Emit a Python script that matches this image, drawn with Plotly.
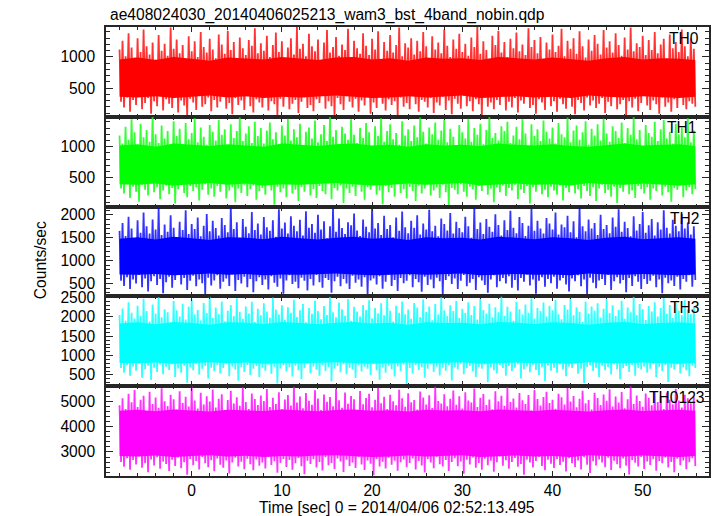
import numpy as np
import plotly.graph_objects as go
from plotly.subplots import make_subplots

title_text = "ae408024030_20140406025213_wam3_bst_4band_nobin.qdp"
x_title = "Time [sec] 0 = 2014/04/06 02:52:13.495"
y_title = "Counts/sec"
bands = ["TH0", "TH1", "TH2", "TH3", "TH0123"]
colors = ["#ff0000", "#00ff00", "#0000ff", "#00ffff", "#ff00ff"]

t_start = -8.0
pair_width = 1.0 / 3.0   # one local maximum and one local minimum per 1/3 s
core_step = 2.0

# local maxima / minima of each light curve (counts/sec)
th0_peak = [1120, 1260, 1010, 1380, 1150, 990, 1300, 1080, 1440, 1170, 1040, 1230, 960, 1350, 1100, 1210,
            1020, 1470, 1130, 1280, 1060, 1190, 910, 1330, 1090, 1250, 1000, 1400, 1160, 1070, 1290, 1120,
            980, 1360, 1200, 1050, 1420, 1110, 1240, 940, 1310, 1140, 1030, 1270, 1180, 1460, 1060, 1220,
            1100, 1340, 1000, 1190, 1390, 1080, 1250, 970, 1150, 1300, 1040, 1480, 1130, 1210, 1010, 1370,
            1170, 1090, 1280, 930, 1230, 1430, 1070, 1160, 1320, 1020, 1200, 1110, 1450, 990, 1260, 1140,
            1050, 1380, 1180, 1030, 1290, 1120, 1410, 960, 1240, 1100, 1350, 1070, 1190, 1470, 1010, 1220,
            1150, 1300, 1040, 1260, 1090, 1400, 1170, 950, 1330, 1120, 1230, 1060, 1440, 1180, 1000, 1280,
            1130, 1370, 1080, 1210, 1020, 1310, 1160, 1480, 1050, 1250, 1110, 970, 1340, 1190, 1420, 1070,
            1240, 1000, 1290, 1140, 1390, 1090, 1200, 1030, 1460, 1160, 1270, 1060, 1320, 940, 1230, 1120,
            1360, 1080, 1180, 1450, 1010, 1260, 1130, 1300, 1050, 1410, 1170, 990, 1280, 1100, 1350, 1210,
            1040, 1430, 1150, 1250, 1070, 1380, 1190, 1020, 1310, 1120, 1470, 1090, 1220, 1160, 1340, 1030,
            1270, 1110, 1400, 1060, 1200, 1290, 980, 1360, 1140, 1240, 1080, 1440, 1170, 1010, 1300, 1130]
th0_trough = [280, 190, 350, 120, 310, 230, 400, 160, 260, 340, 90, 290, 210, 370, 140, 320,
              250, 180, 380, 110, 300, 220, 60, 330, 270, 150, 390, 200, 240, 350, 130, 310,
              190, 280, 420, 170, 260, 80, 340, 230, 300, 150, 370, 210, 110, 320, 270, 190,
              360, 140, 290, 240, 70, 330, 200, 380, 160, 250, 310, 100, 280, 350, 180, 230,
              130, 320, 260, 400, 170, 290, 210, 60, 340, 240, 150, 370, 280, 190, 330, 120,
              300, 220, 360, 90, 270, 180, 410, 250, 140, 320, 230, 290, 70, 350, 200, 260,
              160, 390, 240, 120, 310, 280, 190, 340, 100, 270, 220, 360, 150, 300, 80, 330,
              250, 170, 380, 210, 290, 130, 320, 240, 60, 350, 200, 270, 160, 310, 230, 400,
              140, 280, 190, 340, 110, 300, 250, 370, 180, 230, 90, 320, 270, 150, 360, 210,
              290, 120, 330, 240, 170, 390, 200, 80, 310, 260, 140, 350, 220, 300, 180, 250,
              340, 100, 280, 210, 370, 160, 240, 310, 70, 290, 190, 330, 130, 260, 380, 220,
              150, 300, 240, 90, 350, 200, 270, 120, 320, 180, 410, 230, 160, 290, 250, 200]

th1_peak = [1180, 1050, 1320, 1110, 1440, 1230, 1010, 1370, 1150, 1270, 1080, 1480, 1200, 1060, 1340, 1130,
            1250, 990, 1410, 1170, 1290, 1040, 1380, 1120, 1220, 1460, 1070, 1310, 1160, 1030, 1350, 1240,
            1100, 1430, 1190, 1280, 1020, 1360, 1140, 1250, 1470, 1090, 1210, 1330, 1060, 1400, 1170, 1300,
            1050, 1260, 1390, 1120, 1230, 980, 1340, 1180, 1450, 1100, 1280, 1150, 1370, 1020, 1240, 1310,
            1130, 1420, 1070, 1200, 1350, 1090, 1480, 1160, 1270, 1040, 1320, 1210, 1110, 1440, 1190, 1060,
            1300, 1140, 1380, 1230, 1000, 1330, 1170, 1460, 1080, 1250, 1360, 1120, 1220, 1030, 1410, 1180,
            1280, 1090, 1340, 1150, 1470, 1240, 1050, 1310, 1200, 1390, 1110, 1260, 1430, 1070, 1290, 1160,
            1020, 1350, 1230, 1130, 1450, 1080, 1300, 1190, 1370, 1040, 1270, 1480, 1140, 1220, 1100, 1330,
            1250, 1400, 1060, 1180, 1320, 1120, 1440, 1210, 990, 1360, 1170, 1280, 1090, 1420, 1240, 1130,
            1310, 1050, 1380, 1200, 1150, 1470, 1070, 1260, 1340, 1110, 1230, 1410, 1030, 1290, 1180, 1360,
            1100, 1450, 1210, 1080, 1330, 1250, 1140, 1390, 1060, 1300, 1190, 1480, 1120, 1270, 1010, 1350,
            1220, 1160, 1400, 1090, 1280, 1430, 1130, 1240, 1050, 1370, 1200, 1310, 1150, 1460, 1070, 1260]
th1_trough = [330, 250, 400, 180, 360, 280, 120, 390, 310, 220, 430, 270, 350, 160, 300, 380,
              240, 340, 90, 320, 410, 260, 190, 370, 290, 350, 140, 310, 400, 230, 330, 200,
              370, 280, 420, 170, 300, 350, 110, 330, 260, 390, 210, 320, 380, 150, 290, 340,
              230, 410, 300, 70, 360, 270, 330, 190, 400, 250, 310, 130, 350, 280, 420, 220,
              320, 180, 370, 290, 240, 410, 160, 340, 300, 380, 100, 330, 260, 360, 210, 390,
              280, 150, 350, 310, 420, 230, 300, 80, 370, 270, 340, 200, 400, 260, 320, 170,
              360, 290, 130, 380, 250, 330, 410, 220, 300, 350, 180, 390, 270, 60, 340, 310,
              240, 400, 280, 200, 360, 320, 150, 370, 290, 420, 230, 330, 110, 350, 270, 380,
              210, 340, 300, 390, 160, 320, 260, 370, 90, 350, 280, 410, 240, 310, 190, 360,
              300, 230, 380, 140, 340, 270, 400, 250, 320, 170, 370, 290, 210, 350, 130, 330,
              390, 260, 310, 200, 360, 100, 340, 280, 410, 240, 300, 180, 370, 320, 250, 350,
              150, 330, 290, 400, 220, 360, 270, 120, 340, 310, 380, 190, 300, 350, 240, 320]

th2_peak = [1650, 1820, 1540, 1960, 1700, 1480, 1880, 1610, 2050, 1750, 1590, 1900, 1680, 2150, 1560, 1790,
            1630, 1990, 1720, 1510, 1850, 1670, 2100, 1580, 1800, 1690, 1940, 1530, 1760, 2020, 1640, 1870,
            1710, 1550, 1930, 1780, 1620, 2170, 1690, 1840, 1500, 1910, 1740, 1600, 2060, 1670, 1810, 1570,
            1950, 1730, 1650, 1880, 1520, 2120, 1700, 1830, 1590, 1970, 1760, 1640, 1890, 1550, 2080, 1720,
            1800, 1610, 2000, 1680, 1860, 1490, 1750, 2140, 1630, 1920, 1710, 1580, 1840, 1770, 2030, 1660,
            1540, 1900, 1740, 1620, 2180, 1700, 1820, 1560, 1980, 1690, 1780, 1510, 1940, 1650, 2070, 1730,
            1600, 1870, 1720, 1990, 1570, 1810, 1680, 2110, 1640, 1760, 1530, 1920, 1800, 1660, 2040, 1590,
            1850, 1710, 1620, 1960, 1750, 1500, 2160, 1690, 1830, 1580, 1910, 1740, 1630, 2010, 1780, 1550,
            1880, 1670, 2090, 1720, 1600, 1950, 1820, 1540, 1760, 2130, 1650, 1870, 1700, 1590, 1930, 1810,
            1680, 2050, 1570, 1790, 1730, 1980, 1620, 1860, 1510, 2170, 1750, 1640, 1900, 1700, 1820, 1560,
            2000, 1690, 1780, 1600, 1940, 1740, 2120, 1630, 1850, 1710, 1530, 1970, 1660, 1800, 2060, 1610,
            1770, 1910, 1550, 1840, 1680, 2100, 1720, 1590, 1890, 1760, 1640, 2020, 1700, 1830, 1570, 1750]
th2_trough = [560, 450, 640, 380, 590, 500, 690, 420, 610, 330, 550, 660, 470, 600, 290, 530,
              650, 410, 580, 700, 480, 620, 360, 560, 670, 440, 590, 510, 260, 630, 460, 570,
              680, 390, 540, 610, 450, 700, 340, 580, 500, 650, 420, 600, 310, 550, 640, 470,
              590, 370, 660, 520, 430, 610, 280, 570, 680, 490, 540, 400, 630, 560, 350, 600,
              460, 690, 530, 410, 620, 580, 300, 550, 650, 440, 600, 500, 380, 670, 520, 590,
              430, 640, 270, 570, 610, 480, 660, 390, 540, 700, 450, 580, 340, 620, 510, 560,
              680, 420, 600, 530, 320, 650, 470, 590, 400, 630, 550, 250, 580, 660, 490, 610,
              380, 560, 690, 440, 520, 600, 360, 640, 570, 470, 300, 590, 680, 420, 550, 620,
              500, 660, 410, 580, 350, 620, 540, 700, 460, 590, 280, 560, 640, 430, 600, 510,
              650, 390, 570, 620, 480, 330, 610, 550, 680, 440, 590, 260, 630, 520, 400, 570,
              600, 470, 690, 360, 550, 640, 500, 580, 310, 620, 450, 660, 540, 380, 600, 490,
              560, 670, 420, 590, 290, 630, 510, 570, 450, 650, 370, 600, 540, 680, 430, 580]

th3_peak = [2050, 2220, 1900, 2380, 2110, 1960, 2290, 2030, 2470, 2150, 1880, 2320, 2080, 2510, 1990, 2200,
            2120, 1850, 2410, 2170, 2010, 2340, 1930, 2260, 2450, 2060, 2180, 1910, 2360, 2100, 2530, 1970,
            2240, 2070, 2400, 1890, 2160, 2310, 2020, 2480, 2130, 1950, 2270, 2090, 2390, 1870, 2210, 2040,
            2350, 2140, 1980, 2500, 2190, 2060, 2300, 1920, 2250, 2110, 2440, 2000, 2170, 2330, 1860, 2230,
            2080, 2420, 2150, 1940, 2280, 2050, 2520, 2120, 1990, 2370, 2200, 2030, 2460, 1900, 2260, 2140,
            2010, 2310, 2180, 2430, 1960, 2230, 2090, 2350, 2040, 2490, 2160, 1880, 2290, 2110, 2400, 2070,
            2190, 1950, 2360, 2240, 2000, 2450, 2130, 2270, 1910, 2330, 2060, 2510, 2170, 2020, 2300, 2150,
            2410, 1970, 2210, 2100, 2380, 2050, 2280, 1930, 2470, 2180, 2080, 2340, 1990, 2250, 2120, 2530,
            2030, 2260, 2140, 1900, 2390, 2200, 2060, 2320, 2110, 2480, 1960, 2230, 2150, 2370, 2010, 2290,
            2170, 2440, 2070, 1940, 2310, 2190, 2500, 2040, 2250, 2130, 1870, 2400, 2090, 2270, 2160, 2350,
            1980, 2210, 2460, 2100, 2300, 2020, 2180, 2420, 1950, 2240, 2120, 2520, 2050, 2330, 2200, 1920,
            2280, 2140, 2380, 2010, 2230, 2490, 2080, 2310, 1970, 2360, 2160, 2040, 2430, 2190, 2070, 2260]
th3_trough = [680, 560, 760, 480, 720, 610, 800, 430, 650, 740, 370, 690, 580, 770, 520, 710,
              630, 780, 450, 670, 560, 740, 300, 700, 620, 790, 510, 660, 730, 410, 690, 600,
              750, 540, 680, 800, 470, 720, 640, 350, 700, 580, 760, 500, 660, 730, 440, 690,
              610, 770, 530, 710, 280, 670, 750, 590, 700, 460, 740, 620, 390, 680, 790, 550,
              720, 640, 480, 760, 600, 700, 330, 670, 730, 570, 780, 520, 690, 640, 420, 750,
              590, 710, 660, 500, 800, 620, 380, 700, 560, 740, 650, 460, 720, 600, 770, 250,
              680, 540, 750, 630, 700, 430, 660, 780, 580, 720, 490, 690, 610, 760, 360, 700,
              640, 790, 520, 680, 740, 590, 450, 710, 660, 770, 310, 700, 620, 540, 750, 680,
              480, 730, 600, 690, 780, 410, 650, 720, 570, 760, 630, 500, 700, 340, 740, 610,
              690, 560, 770, 640, 470, 720, 680, 800, 530, 660, 290, 710, 750, 600, 690, 440,
              740, 620, 700, 510, 780, 650, 390, 680, 730, 580, 760, 480, 690, 640, 720, 560,
              660, 780, 450, 710, 600, 750, 320, 690, 640, 770, 540, 700, 620, 470, 740, 680]

th0123_peak = [4850, 5120, 4700, 5300, 4960, 5450, 4780, 5060, 5220, 4620, 5380, 4900, 5150, 4750, 5520, 5000,
               4820, 5260, 5080, 4680, 5400, 4940, 5180, 4800, 5600, 5030, 4720, 5340, 4880, 5200, 4990, 5470,
               4760, 5100, 5280, 4650, 5050, 5420, 4920, 5160, 4830, 5560, 4970, 4700, 5310, 5090, 4860, 5230,
               5010, 5490, 4780, 5140, 4900, 5360, 4690, 5070, 5250, 4840, 5580, 4950, 5190, 4730, 5330, 5020,
               4870, 5440, 5110, 4660, 5270, 4980, 5170, 4810, 5500, 5040, 4750, 5350, 4910, 5210, 5080, 4640,
               5410, 4890, 5130, 5300, 4770, 5060, 5540, 4930, 5180, 4700, 5260, 5000, 4850, 5460, 5120, 4790,
               5320, 4960, 5050, 4680, 5390, 5150, 4880, 5240, 4740, 5590, 5010, 4920, 5280, 4810, 5100, 5430,
               4870, 5200, 4720, 5360, 5030, 4950, 5510, 4780, 5140, 5290, 4860, 5070, 4690, 5400, 5000, 5220,
               4830, 5560, 4970, 5110, 4760, 5330, 5040, 4900, 5250, 4650, 5450, 5090, 4840, 5170, 5380, 4940,
               5060, 4710, 5300, 5160, 4880, 5530, 4990, 5210, 4770, 5100, 5420, 4920, 5050, 4680, 5340, 5130,
               4860, 5270, 5020, 5480, 4800, 5190, 4950, 5370, 4730, 5080, 5600, 4900, 5230, 5010, 4790, 5310,
               5140, 4850, 5410, 4970, 5200, 4700, 5350, 5060, 4890, 5500, 5030, 4760, 5260, 5120, 4930, 5180]
th0123_trough = [2600, 2420, 2750, 2300, 2680, 2510, 2820, 2380, 2560, 2200, 2700, 2470, 2790, 2340, 2620, 2530,
                 2250, 2690, 2450, 2780, 2360, 2590, 2100, 2720, 2480, 2640, 2310, 2800, 2550, 2400, 2670, 2240,
                 2740, 2500, 2380, 2660, 2150, 2580, 2770, 2430, 2610, 2320, 2730, 2520, 2280, 2700, 2460, 2580,
                 2350, 2810, 2490, 2630, 2180, 2570, 2720, 2410, 2680, 2300, 2550, 2760, 2440, 2120, 2650, 2530,
                 2710, 2390, 2600, 2270, 2790, 2480, 2560, 2330, 2740, 2620, 2210, 2690, 2450, 2580, 2370, 2800,
                 2510, 2290, 2660, 2540, 2080, 2720, 2430, 2610, 2350, 2770, 2500, 2650, 2260, 2590, 2700, 2400,
                 2560, 2740, 2310, 2640, 2470, 2190, 2710, 2580, 2360, 2800, 2520, 2430, 2680, 2250, 2600, 2750,
                 2440, 2620, 2140, 2690, 2510, 2780, 2380, 2560, 2300, 2730, 2480, 2650, 2220, 2590, 2820, 2460,
                 2670, 2340, 2600, 2760, 2420, 2530, 2100, 2700, 2580, 2390, 2640, 2800, 2450, 2280, 2690, 2540,
                 2370, 2720, 2490, 2610, 2230, 2750, 2550, 2410, 2660, 2310, 2790, 2500, 2170, 2630, 2470, 2700,
                 2580, 2400, 2770, 2290, 2650, 2520, 2360, 2740, 2460, 2110, 2680, 2570, 2430, 2800, 2330, 2620,
                 2490, 2710, 2260, 2640, 2550, 2780, 2390, 2600, 2200, 2730, 2480, 2660, 2320, 2590, 2750, 2440]

# dense core of each light curve, every 2 s
th0_core_lo = [360, 350, 370, 340, 360, 380, 350, 370, 340, 360, 350, 370, 380, 360, 340, 350, 370,
               350, 360, 380, 340, 360, 370, 350, 360, 340, 380, 360, 350, 370, 360, 340, 360]
th0_core_hi = [960, 990, 950, 1000, 970, 940, 990, 980, 960, 1000, 970, 950, 990, 1000, 960, 980, 940,
               990, 970, 980, 950, 1000, 980, 960, 990, 970, 940, 980, 1000, 960, 980, 970, 950]
th1_core_lo = [400, 390, 410, 380, 400, 420, 390, 410, 380, 400, 390, 410, 420, 400, 380, 390, 410,
               390, 400, 420, 380, 400, 410, 390, 400, 380, 420, 400, 390, 410, 400, 380, 400]
th1_core_hi = [1020, 1040, 1000, 1050, 1030, 1010, 1040, 1020, 1000, 1050, 1030, 1010, 1040, 1050, 1020, 1030, 1000,
               1040, 1020, 1030, 1010, 1050, 1030, 1020, 1040, 1010, 1000, 1030, 1050, 1020, 1030, 1040, 1010]
th2_core_lo = [700, 690, 710, 680, 700, 720, 690, 710, 680, 700, 690, 710, 720, 700, 680, 690, 710,
               690, 700, 720, 680, 700, 710, 690, 700, 680, 720, 700, 690, 710, 700, 680, 700]
th2_core_hi = [1480, 1510, 1460, 1520, 1490, 1450, 1510, 1500, 1470, 1520, 1490, 1460, 1500, 1520, 1480, 1500, 1450,
               1510, 1490, 1500, 1460, 1520, 1500, 1470, 1510, 1490, 1450, 1500, 1520, 1470, 1490, 1510, 1480]
th3_core_lo = [810, 800, 820, 790, 810, 830, 800, 820, 790, 810, 800, 820, 830, 810, 790, 800, 820,
               800, 810, 830, 790, 810, 820, 800, 810, 790, 830, 810, 800, 820, 810, 790, 810]
th3_core_hi = [1830, 1860, 1810, 1870, 1840, 1800, 1860, 1850, 1820, 1870, 1840, 1810, 1850, 1870, 1830, 1850, 1800,
               1860, 1840, 1850, 1810, 1870, 1850, 1820, 1860, 1840, 1800, 1850, 1870, 1820, 1840, 1860, 1830]
th0123_core_lo = [2840, 2820, 2860, 2800, 2840, 2870, 2820, 2850, 2800, 2840, 2820, 2860, 2870, 2840, 2800, 2820, 2860,
                  2820, 2840, 2870, 2800, 2840, 2860, 2820, 2840, 2800, 2870, 2840, 2820, 2860, 2840, 2800, 2840]
th0123_core_hi = [4630, 4670, 4610, 4680, 4640, 4600, 4670, 4650, 4620, 4680, 4640, 4610, 4660, 4680, 4630, 4650, 4600,
                  4670, 4640, 4650, 4610, 4680, 4650, 4620, 4670, 4640, 4600, 4650, 4680, 4620, 4640, 4670, 4630]

y_ranges = [[40, 1480], [40, 1480], [220, 2180], [210, 2530], [2050, 5600]]
y_ticks = [[500, 1000], [500, 1000], [500, 1000, 1500, 2000], [500, 1000, 1500, 2000, 2500], [3000, 4000, 5000]]
y_minor = [100, 100, 100, 100, 200]
x_range = [-9.5, 57.35]
x_ticks = [0, 10, 20, 30, 40, 50]

peaks = [th0_peak, th1_peak, th2_peak, th3_peak, th0123_peak]
troughs = [th0_trough, th1_trough, th2_trough, th3_trough, th0123_trough]
core_los = [th0_core_lo, th1_core_lo, th2_core_lo, th3_core_lo, th0123_core_lo]
core_his = [th0_core_hi, th1_core_hi, th2_core_hi, th3_core_hi, th0123_core_hi]

W, H = 717, 516
ML, MR, MT, MB = 106, 6, 27, 40
PW, PH = W - ML - MR, H - MT - MB
FONT = "Liberation Sans, Arial, Helvetica, sans-serif"
FS = 15.6
AXC = "#262626"

fig = make_subplots(rows=5, cols=1, shared_xaxes=True, vertical_spacing=0)

for k in range(5):
    pk = np.array(peaks[k], dtype=float)
    tr = np.array(troughs[k], dtype=float)
    n = len(pk)
    tp = t_start + pair_width * np.arange(n)
    xs = np.empty(2 * n)
    ys = np.empty(2 * n)
    xs[0::2] = tp
    xs[1::2] = tp + pair_width / 2
    ys[0::2] = pk
    ys[1::2] = tr
    xc = np.minimum(t_start + core_step * np.arange(len(core_los[k])), xs[-1])
    fig.add_trace(go.Scatter(x=xc, y=core_los[k], mode="lines", line=dict(width=0, color=colors[k]),
                             showlegend=False, hoverinfo="skip"), row=k + 1, col=1)
    fig.add_trace(go.Scatter(x=xc, y=core_his[k], mode="lines", line=dict(width=0, color=colors[k]),
                             fill="tonexty", fillcolor=colors[k], showlegend=False, hoverinfo="skip"),
                  row=k + 1, col=1)
    fig.add_trace(go.Scatter(x=xs, y=ys, mode="lines", line=dict(width=1.8, color=colors[k]), opacity=0.8,
                             showlegend=False, hoverinfo="skip"), row=k + 1, col=1)

for k in range(5):
    fig.update_yaxes(row=k + 1, col=1, range=y_ranges[k], tickvals=y_ticks[k], ticks="inside", ticklen=7,
                     tickwidth=1.2, tickcolor=AXC, showline=True, linecolor=AXC, linewidth=1.5, mirror="ticks",
                     showgrid=False, zeroline=False, ticklabelstandoff=6,
                     tickfont=dict(family=FONT, size=FS, color="#000"),
                     minor=dict(dtick=y_minor[k], tick0=0, ticks="inside", ticklen=4, tickcolor=AXC, tickwidth=1,
                                showgrid=False))
    fig.update_xaxes(row=k + 1, col=1, range=x_range, tickvals=x_ticks, ticks="inside", ticklen=5,
                     tickwidth=1.2, tickcolor=AXC, showline=True, linecolor=AXC, linewidth=1.5, mirror="ticks",
                     showgrid=False, zeroline=False, showticklabels=(k == 4),
                     tickfont=dict(family=FONT, size=FS, color="#000"),
                     minor=dict(dtick=2, tick0=0, ticks="inside", ticklen=3, tickcolor=AXC, tickwidth=1,
                                showgrid=False))


def px(xp):
    return (xp - ML) / PW


def py(yp):
    return (H - MB - yp) / PH


anns = [
    dict(text=title_text, x=px(108), y=py(15), xanchor="left", yanchor="middle", showarrow=False,
         font=dict(family=FONT, size=FS, color="#000")),
    dict(text=x_title, x=px(398), y=py(507), xanchor="center", yanchor="middle", showarrow=False,
         font=dict(family=FONT, size=FS, color="#000")),
    dict(text=y_title, x=px(40), y=py(260), xanchor="center", yanchor="middle", showarrow=False, textangle=-90,
         font=dict(family=FONT, size=FS, color="#000")),
]
label_top = [27, 116.5, 207, 296, 386]
label_right = [703, 700, 703, 703, 708]
for k in range(5):
    anns.append(dict(text=bands[k], x=px(label_right[k]), y=py(label_top[k] + 11), xanchor="right",
                     yanchor="middle", showarrow=False, font=dict(family=FONT, size=FS, color="#000")))
for a in anns:
    a["xref"] = "paper"
    a["yref"] = "paper"

fig.update_layout(width=W, height=H, margin=dict(l=ML, r=MR, t=MT, b=MB, pad=0), paper_bgcolor="white",
                  plot_bgcolor="white", annotations=anns, showlegend=False, hovermode=False)

fig.write_html("out.html", config={"displayModeBar": False},
               post_script="document.body.style.margin='0';document.body.style.overflow='hidden';")
